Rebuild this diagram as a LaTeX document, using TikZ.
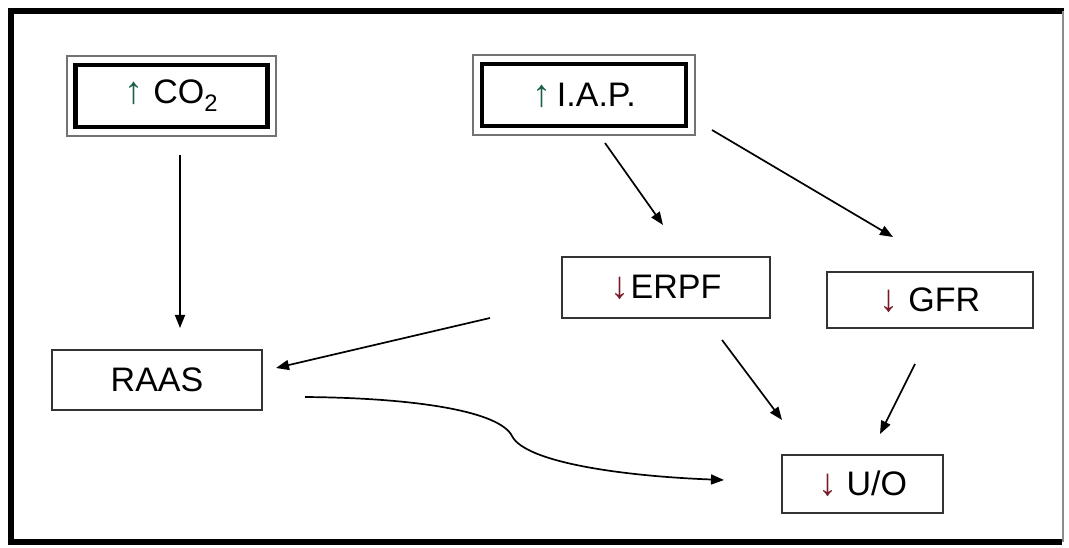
\documentclass[tikz,border=0pt]{standalone}
\usepackage{fontspec}
\setmainfont{Liberation Sans}
\usetikzlibrary{arrows.meta}
\definecolor{upgreen}{RGB}{25,95,70}
\definecolor{downred}{RGB}{120,25,40}
\newcommand{\uparr}{{\color{upgreen}\fontsize{38}{38}\selectfont ↑}}
\newcommand{\downarr}{{\color{downred}\fontsize{38}{38}\selectfont ↓}}
\begin{document}
\begin{tikzpicture}[x=1pt,y=-1pt,
  lbl/.style={font=\fontsize{34}{38}\selectfont, text=black},
  plainbox/.style={lbl, draw=black!80, line width=1.4pt, inner sep=0pt},
  keybox/.style={lbl, draw=black, line width=4.5pt, inner sep=0pt},
  link/.style={line width=1.7pt, -{Triangle[length=13pt,width=10pt]}}]
\useasboundingbox (0,0) rectangle (1069,548);
\fill[white] (0,0) rectangle (1069,548);

% outer frame
\draw[line width=6pt] (8,542) -- (11,542) |- (1064,11);
\draw[line width=6pt] (11,542) -- (1062,542);
\draw[black!45, line width=1.5pt] (1063,11) -- (1063,542);

% source boxes with double frame
\node[keybox, minimum width=192pt, minimum height=62pt] (co2) at (171.5,96)
  {\uparr\ CO\textsubscript{2}};
\node[keybox, minimum width=204pt, minimum height=62pt] (iap) at (584,95)
  {\uparr\,I.A.P.};
\foreach \n in {co2,iap}
  \draw[black!55, line width=2pt]
    ([xshift=-6.5pt,yshift=6.5pt]\n.north west) rectangle ([xshift=6.5pt,yshift=-6.5pt]\n.south east);

% result boxes
\node[plainbox, minimum width=208pt, minimum height=61pt] (erpf) at (666,287.5)
  {\downarr\hspace{1pt}ERPF};
\node[plainbox, minimum width=206pt, minimum height=56pt] (gfr) at (930,300)
  {\downarr\ GFR};
\node[plainbox, minimum width=210pt, minimum height=60pt] (raas) at (157,380)
  {RAAS};
\node[plainbox, minimum width=161pt, minimum height=58pt] (uo) at (862.5,484)
  {\downarr\ U/O};

% connectors (endpoints float off the boxes)
\coordinate (co2s) at (180,155);   \coordinate (raasn) at (180,328);
\coordinate (iaps1) at (605,143);  \coordinate (erpfn) at (663,225);
\coordinate (iaps2) at (712,130);  \coordinate (gfrn)  at (893,237);
\coordinate (erpfw) at (490,318);  \coordinate (raase) at (276,368);
\coordinate (erpfs) at (722,340);  \coordinate (uonw)  at (782,420);
\coordinate (gfrs)  at (915,364);  \coordinate (uon)   at (880,434);
\coordinate (raasr) at (305,397);  \coordinate (bend)  at (512,436);
\coordinate (uow)   at (724,480);

\draw[link] (co2s) -- (raasn);
\draw[link] (iaps1) -- (erpfn);
\draw[link] (iaps2) -- (gfrn);
\draw[link] (erpfw) -- (raase);
\draw[link] (erpfs) -- (uonw);
\draw[link] (gfrs) -- (uon);
\draw[link] (raasr) .. controls (420,398) and (500,412) .. (bend)
  .. controls (525,462) and (620,476) .. (uow);
\end{tikzpicture}
\end{document}
